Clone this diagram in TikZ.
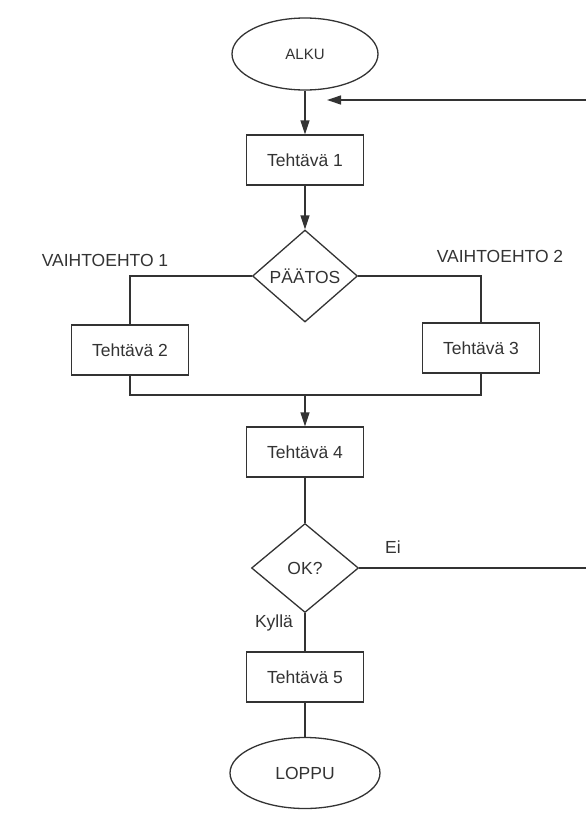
\documentclass[tikz,border=0pt]{standalone}
\usepackage{fontspec}
\setmainfont{Liberation Sans}
\usetikzlibrary{positioning,shapes.geometric,arrows.meta}

\begin{document}
\begin{tikzpicture}[
		x=1pt, y=-1pt,
		every node/.style={font=\fontsize{17.5}{21}\selectfont, text=black!80},
		conn/.style={draw=black!80, line width=1.3pt},
		flow/.style={conn, -{Triangle[length=14pt, width=9pt]}},
		terminal/.style={ellipse, conn, inner sep=0pt, minimum width=146pt, minimum height=72pt},
		task/.style={rectangle, conn, minimum width=117pt, minimum height=50pt},
		choice/.style={diamond, conn, inner sep=0pt, minimum width=105pt, minimum height=92pt},
	]
		\useasboundingbox (0,0) rectangle (586,814);

		\node[terminal, font=\fontsize{15}{18}\selectfont] (alku) at (305,54) {ALKU};
		\node[task] (teht1) at (305,160) {Tehtävä 1};
		\node[choice] (paatos) at (305,276) {PÄÄTOS};
		\node[task] (teht2) at (130,350) {Tehtävä 2};
		\node[task] (teht3) at (481,348) {Tehtävä 3};
		\node[task] (teht4) at (305,452) {Tehtävä 4};
		\node[choice, minimum width=107pt, minimum height=89pt] (ok) at (305,568) {OK?};
		\node[task] (teht5) at (305,677) {Tehtävä 5};
		\node[terminal, minimum width=150pt, minimum height=71pt] (loppu) at (305,773) {LOPPU};

		\node (vaiht1) at (105,260) {VAIHTOEHTO 1};
		\node (vaiht2) at (500,256) {VAIHTOEHTO 2};
		\node (ei) at (393,547) {Ei};
		\node (kylla) at (274,623) {Kyllä};

		\coordinate (paluu) at (586,100);
		\coordinate (paluukarki) at (327,100);
		\coordinate (yhtyma) at (305,395);
		\coordinate (eiulos) at (586,568);

		\draw[flow] (alku) -- (teht1);
		\draw[flow] (paluu) -- (paluukarki);
		\draw[flow] (teht1) -- (paatos);
		\draw[conn] (paatos.west) -| (teht2.north);
		\draw[conn] (paatos.east) -| (teht3.north);
		\draw[conn] (teht2.south) |- (yhtyma) -| (teht3.south);
		\draw[flow] (yhtyma) -- (teht4);
		\draw[conn] (teht4) -- (ok);
		\draw[conn] (ok.east) -- (eiulos);
		\draw[conn] (ok) -- (teht5);
		\draw[conn] (teht5) -- (loppu);
	\end{tikzpicture}
\end{document}
